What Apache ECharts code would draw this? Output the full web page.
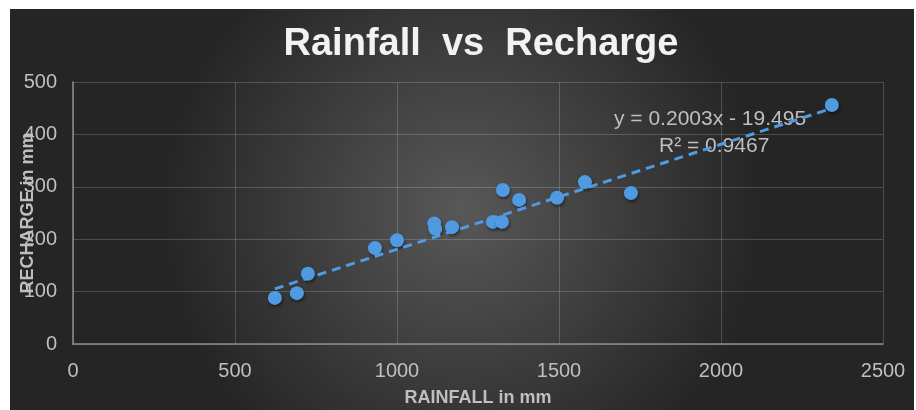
<!DOCTYPE html>
<html>
<head>
<meta charset="utf-8">
<script src="https://cdn.jsdelivr.net/npm/echarts@6/dist/echarts.min.js"></script>
<style>
  html, body { margin: 0; padding: 0; background: #ffffff; }
  #chart { position: absolute; left: 10px; top: 9px; width: 904px; height: 401px; }
</style>
</head>
<body>
<div id="chart"></div>
<script>
// Annual rainfall (mm) and matching groundwater recharge (mm)
const rainfall = [623, 691, 725, 932, 1000, 1115, 1118, 1170, 1296, 1324, 1327, 1377, 1494, 1580, 1722, 2342];
const recharge = [88, 97, 134, 183, 198, 230, 220, 223, 233, 233, 294, 275, 279, 309, 288, 456];

// Linear trend fitted to the points
const slope = 0.2003;
const intercept = -19.495;
const rSquared = 0.9467;

const xTicks = { min: 0, max: 2500, interval: 500 };
const yTicks = { min: 0, max: 500, interval: 100 };

const points = rainfall.map((x, i) => [x, recharge[i]]);
const xLo = Math.min(...rainfall);
const xHi = Math.max(...rainfall);
const trend = [[xLo, slope * xLo + intercept], [xHi, slope * xHi + intercept]];

const labelFont = '"Liberation Sans", Arial, sans-serif';
const grey = '#bfbfbf';
const blue = '#4f9ae0';
const plain = v => String(v);

const chart = echarts.init(document.getElementById('chart'), null, { renderer: 'canvas' });
chart.setOption({
  animation: false,
  backgroundColor: {
    type: 'radial', x: 0.5, y: 0.5, r: 0.75,
    colorStops: [
      { offset: 0, color: '#585858' },
      { offset: 1, color: '#252525' }
    ]
  },
  title: {
    text: 'Rainfall  vs  Recharge',
    left: 466, top: 12, textAlign: 'center',
    textStyle: { color: '#f2f2f2', fontSize: 38, fontWeight: 'bold', fontFamily: labelFont }
  },
  grid: { left: 63, top: 73, right: 31, bottom: 66, outerBoundsMode: 'none', containLabel: false },
  xAxis: {
    type: 'value',
    min: xTicks.min, max: xTicks.max, interval: xTicks.interval,
    name: 'RAINFALL in mm', nameLocation: 'middle', nameGap: 45, nameMoveOverlap: false,
    nameTextStyle: { color: grey, fontSize: 18, fontWeight: 'bold', fontFamily: labelFont },
    axisLine: { show: true, lineStyle: { color: '#8c8c8c', width: 1.5 } },
    axisTick: { show: false },
    axisLabel: { color: grey, fontSize: 20, fontFamily: labelFont, margin: 17, formatter: plain },
    splitLine: { show: true, lineStyle: { color: 'rgba(255,255,255,0.18)', width: 1 } }
  },
  yAxis: {
    type: 'value',
    min: yTicks.min, max: yTicks.max, interval: yTicks.interval,
    name: 'RECHARGE in mm', nameLocation: 'middle', nameGap: 36, nameRotate: 90, nameMoveOverlap: false,
    nameTextStyle: { color: grey, fontSize: 18, fontWeight: 'bold', fontFamily: labelFont },
    axisLine: { show: true, lineStyle: { color: '#8c8c8c', width: 1.5 } },
    axisTick: { show: false },
    axisLabel: { color: grey, fontSize: 20, fontFamily: labelFont, margin: 16, formatter: plain },
    splitLine: { show: true, lineStyle: { color: 'rgba(255,255,255,0.18)', width: 1 } }
  },
  series: [
    {
      type: 'scatter',
      data: points,
      symbolSize: 14,
      itemStyle: {
        color: blue, opacity: 1,
        shadowBlur: 3, shadowColor: 'rgba(0,0,0,0.45)', shadowOffsetX: 1, shadowOffsetY: 2
      },
      z: 2
    },
    {
      type: 'line',
      data: trend,
      symbol: 'none',
      lineStyle: { color: blue, width: 3, type: [9, 6] },
      z: 3
    }
  ],
  graphic: [
    {
      type: 'text', left: 604, top: 100,
      style: { text: 'y = 0.2003x - 19.495', fill: grey, fontSize: 21, fontFamily: labelFont }
    },
    {
      type: 'text', left: 649, top: 127,
      style: { text: 'R² = ' + rSquared.toFixed(4), fill: grey, fontSize: 21, fontFamily: labelFont }
    }
  ]
});
</script>
</body>
</html>
